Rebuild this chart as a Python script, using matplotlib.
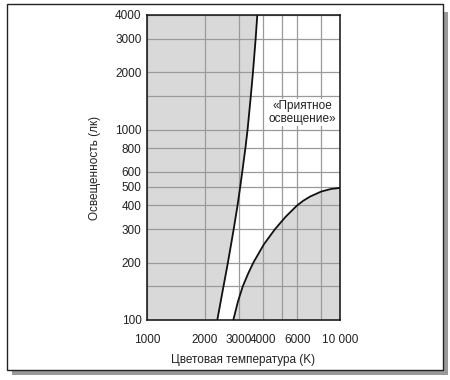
import matplotlib
matplotlib.use("Agg")
import matplotlib.pyplot as plt
from matplotlib.patches import Rectangle

plt.rcParams["font.family"] = ["Liberation Sans", "DejaVu Sans"]

# left boundary, temperature K vs illuminance lx
left_lux = [100, 150, 200, 300, 400, 500, 600, 800, 1000, 1500, 2000, 3000, 4000]
left_temp = [2313, 2490, 2625, 2813, 2945, 3040, 3115, 3235, 3320, 3450, 3540, 3655, 3728]

# right boundary (lower limit)
right_temp = [2800, 2960, 3133, 3340, 3555, 4036, 4605, 5066, 5250, 5965,
              6450, 7000, 8000, 9000, 10000]
right_lux = [100, 125, 150, 175, 200, 250, 300, 336, 350, 398,
             423, 445, 473, 488, 494]

x_ticks = [1000, 2000, 3000, 4000, 6000, 10000]
x_labels = ["1000", "2000", "3000", "4000", "6000", "10 000"]
x_minor = [5000, 8000]
y_ticks = [100, 200, 300, 400, 500, 600, 800, 1000, 2000, 3000, 4000]
y_minor = [150, 1500]

fig = plt.figure(figsize=(4.5, 3.8), dpi=100)

# frame with drop shadow
fig.patches.append(Rectangle((12 / 450, 1 - 375 / 380), 436 / 450, 363 / 380,
                             transform=fig.transFigure, facecolor="#9a9a9a",
                             edgecolor="none", zorder=-2))
fig.patches.append(Rectangle((7 / 450, 1 - 370 / 380), 436 / 450, 366 / 380,
                             transform=fig.transFigure, facecolor="white",
                             edgecolor="#222222", linewidth=1.0, zorder=-1))

ax = fig.add_axes([147 / 450, 1 - 320 / 380, 193 / 450, 305 / 380])
ax.set_xscale("log")
ax.set_yscale("log")
ax.set_xlim(1000, 10000)
ax.set_ylim(100, 4000)

fill = "#d9d9d9"
ax.fill_betweenx(left_lux, 1000, left_temp, color=fill, lw=0, zorder=1)
ax.fill_between(right_temp, 100, right_lux, color=fill, lw=0, zorder=1)
ax.plot(left_temp, left_lux, color="#111111", lw=1.3, zorder=3)
ax.plot(right_temp, right_lux, color="#111111", lw=1.3, zorder=3)

ax.set_xticks(x_ticks)
ax.set_xticklabels(x_labels)
ax.set_xticks(x_minor, minor=True)
ax.set_xticklabels([], minor=True)
ax.set_yticks(y_ticks)
ax.set_yticklabels([str(v) for v in y_ticks])
ax.set_yticks(y_minor, minor=True)
ax.set_yticklabels([], minor=True)
ax.tick_params(which="both", length=0, labelsize=8.5, colors="#222222")
ax.tick_params(axis="x", pad=10)
ax.tick_params(axis="y", pad=4)
ax.grid(True, which="both", color="#9a9a9a", lw=0.9, zorder=2)
ax.set_axisbelow(False)
for s in ax.spines.values():
    s.set_color("#111111")
    s.set_linewidth(1.1)
    s.set_zorder(4)

ax.text(6353, 1229, "«Приятное\nосвещение»", ha="center", va="center",
        fontsize=8.5, color="#222222", linespacing=1.15, zorder=5,
        bbox=dict(facecolor="white", edgecolor="none", pad=0.5))

ax.set_xlabel("Цветовая температура (K)", fontsize=8.5, color="#222222", labelpad=6)
ax.set_ylabel("Освещенность (лк)", fontsize=8.5, color="#222222", labelpad=10)

fig.savefig("out.png", dpi=100)
